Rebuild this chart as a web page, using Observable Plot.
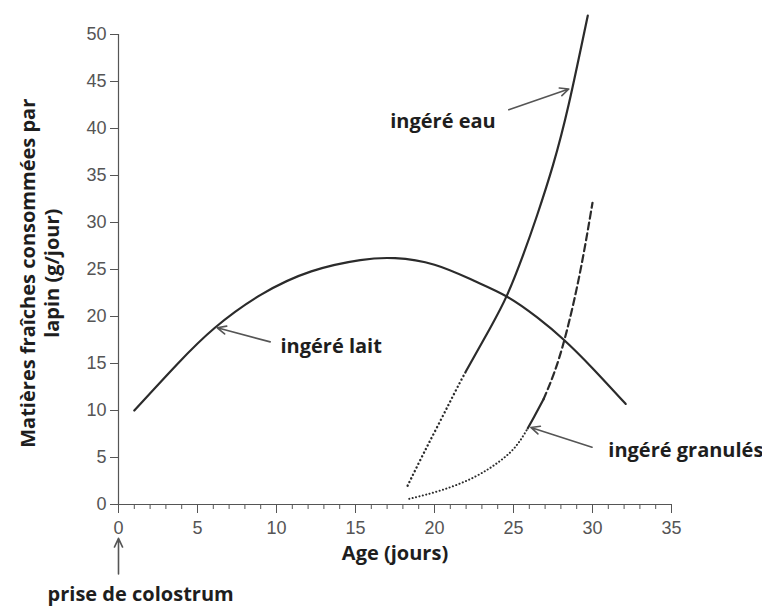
<!DOCTYPE html>
<html><head><meta charset="utf-8">
<script src="https://cdn.jsdelivr.net/npm/d3@7"></script>
<script src="https://cdn.jsdelivr.net/npm/@observablehq/plot@0.6"></script>
<style>
body{margin:0;background:#fff;}
svg{overflow:visible;}
</style>
</head><body><div id="chart"></div>
<script>
// Axis ticks
const xTicks = [0, 5, 10, 15, 20, 25, 30, 35];
const xMinorTicks = [0,1,2,3,4,5,6,7,8,9,10,11,12,13,14,15,16,17,18,19,20,21,22,23,24,25,26,27,28,29,30,31,32,33,34,35];
const yTicks = [0, 5, 10, 15, 20, 25, 30, 35, 40, 45, 50];

// Ingéré lait (solid)
const laitAge   = [1, 3.7, 6.1, 9, 12.2, 15.3, 17.5, 20, 22.5, 24.6, 26.5, 28.2, 30, 32.1];
const laitValue = [10, 14.9, 18.8, 22.3, 24.8, 26, 26.2, 25.5, 23.8, 22.1, 19.9, 17.5, 14.5, 10.7];

// Ingéré eau: dotted then solid
const eauDotAge     = [18.3, 19.3, 20.4, 21.4, 22];
const eauDotValue   = [2.0, 5.4, 9.0, 12.3, 14.2];
const eauSolidAge   = [22, 23.5, 24.6, 25.6, 26.5, 27.5, 28.5, 29.7];
const eauSolidValue = [14.2, 18.7, 22.3, 26.5, 30.8, 36.1, 42.6, 52];

// Ingéré granulés: dotted, solid, dashed
const granDotAge     = [18.4, 20.4, 22.5, 24.2, 25.2, 25.9];
const granDotValue   = [0.6, 1.5, 2.9, 4.7, 6.3, 8.1];
const granSolidAge   = [25.9, 26.3, 26.9];
const granSolidValue = [8.1, 9.3, 11.2];
const granDashAge    = [26.9, 27.55, 28.3, 29.2, 30.0];
const granDashValue  = [11.2, 13.9, 18.0, 24.6, 32.1];

// Annotations (left-anchored)
const noteText  = ["ingéré eau", "ingéré lait", "ingéré granulés"];
const noteAge   = [17.2, 10.25, 31.0];
const noteValue = [40.7, 16.8, 5.75];
// Centered labels
const centerText  = ["prise de colostrum", "Age (jours)"];
const centerAge   = [1.4, 17.5];
const centerValue = [-9.6, -5.2];

const arrowFromAge   = [24.7, 9.6, 29.97, 0];
const arrowFromValue = [42.0, 17.3, 6.1, -7.4];
const arrowToAge     = [28.5, 6.25, 26.1, 0];
const arrowToValue   = [44.2, 18.8, 8.2, -3.6];

const yTitle = "Matières fraîches consommées par\nlapin (g/jour)";
const yTitleAge = -5.0, yTitleValue = 24.6;

const pts = (xs, ys) => xs.map((x, i) => ({x, y: ys[i]}));
const lineColor = "#2b2b2b";
const boldFont = {fontFamily: "Open Sans", fontWeight: 700, fontSize: 20, fill: "#1e1e1e"};

const chart = Plot.plot({
  width: 762, height: 606,
  marginLeft: 118, marginRight: 91, marginTop: 34, marginBottom: 102,
  x: {domain: [0, 35]},
  y: {domain: [0, 50]},
  style: {fontFamily: "Liberation Sans", fontSize: "18px", color: "#555", background: "white"},
  marks: [
    Plot.axisY({ticks: yTicks, tickSize: 8, tickPadding: 4, fontSize: 18, label: null}),
    Plot.axisX({ticks: xTicks, tickSize: 9, tickPadding: 8, fontSize: 18, label: null}),
    Plot.axisX({ticks: xMinorTicks, tickSize: 5, tickFormat: () => "", label: null}),
    Plot.ruleX([0], {y1: 0, y2: 50, stroke: "#555", strokeWidth: 1.2}),
    Plot.ruleY([0], {x1: 0, x2: 35, stroke: "#555", strokeWidth: 1.2}),

    Plot.line(pts(laitAge, laitValue), {x: "x", y: "y", curve: "natural", stroke: lineColor, strokeWidth: 2.2}),
    Plot.line(pts(eauDotAge, eauDotValue), {x: "x", y: "y", curve: "natural", stroke: lineColor, strokeWidth: 2.4, strokeDasharray: "0.1,4", strokeLinecap: "round"}),
    Plot.line(pts(eauSolidAge, eauSolidValue), {x: "x", y: "y", curve: "natural", stroke: lineColor, strokeWidth: 2.2}),
    Plot.line(pts(granDotAge, granDotValue), {x: "x", y: "y", curve: "natural", stroke: lineColor, strokeWidth: 2, strokeDasharray: "0.1,3.4", strokeLinecap: "round"}),
    Plot.line(pts(granSolidAge, granSolidValue), {x: "x", y: "y", curve: "natural", stroke: lineColor, strokeWidth: 2.2}),
    Plot.line(pts(granDashAge, granDashValue), {x: "x", y: "y", curve: "natural", stroke: lineColor, strokeWidth: 2.2, strokeDasharray: "7,4"}),

    Plot.arrow(arrowFromAge.map((_, i) => i), {
      x1: i => arrowFromAge[i], y1: i => arrowFromValue[i],
      x2: i => arrowToAge[i], y2: i => arrowToValue[i],
      stroke: "#555", strokeWidth: 1.6, headLength: 9, headAngle: 50
    }),

    Plot.text(noteText.map((_, i) => i), {
      x: i => noteAge[i], y: i => noteValue[i], text: i => noteText[i],
      textAnchor: "start", ...boldFont
    }),
    Plot.text(centerText.map((_, i) => i), {
      x: i => centerAge[i], y: i => centerValue[i], text: i => centerText[i],
      textAnchor: "middle", ...boldFont
    }),
    Plot.text([yTitle], {x: yTitleAge, y: yTitleValue, text: d => d, rotate: -90, lineHeight: 1.2, textAnchor: "middle", ...boldFont})
  ]
});
document.getElementById("chart").append(chart);
</script>
</body></html>
